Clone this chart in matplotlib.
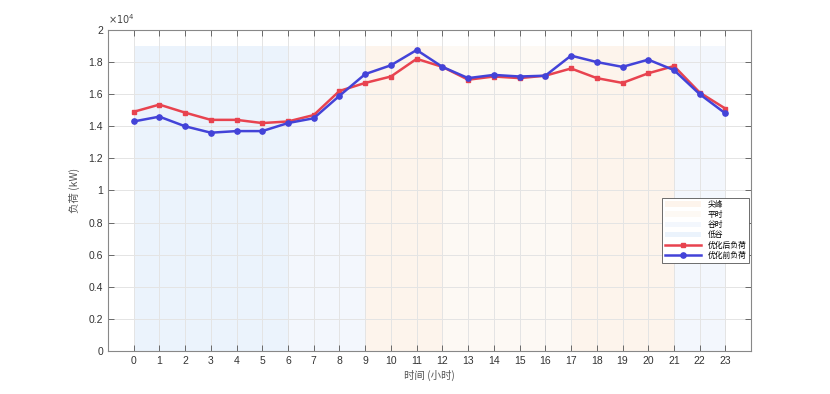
import matplotlib
matplotlib.use("Agg")
import matplotlib.pyplot as plt
import numpy as np

plt.rcParams['font.family'] = ['Liberation Sans', 'Noto Sans CJK SC', 'DejaVu Sans']

# ----------------------------
# Data
# ----------------------------
hours = list(range(24))
load_after = [1.49, 1.535, 1.485, 1.44, 1.44, 1.42, 1.43, 1.47, 1.62, 1.67, 1.71, 1.82,
              1.77, 1.69, 1.71, 1.70, 1.715, 1.76, 1.70, 1.67, 1.73, 1.775, 1.61, 1.51]
load_before = [1.43, 1.46, 1.40, 1.36, 1.37, 1.37, 1.42, 1.45, 1.59, 1.725, 1.78, 1.875,
               1.77, 1.70, 1.72, 1.71, 1.715, 1.84, 1.80, 1.77, 1.815, 1.75, 1.60, 1.48]
load_after = [v * 1e4 for v in load_after]
load_before = [v * 1e4 for v in load_before]

# time-of-use periods: (label, colour, [(start, end), ...])
period_names = ['尖峰', '平时', '谷时', '低谷']
period_colors = ['#fdf4ec', '#fdf9f4', '#f3f7fd', '#ebf3fc']
period_spans = [[(9, 12), (17, 21)], [(12, 17)], [(6, 9), (21, 23)], [(0, 6)]]
band_top = 1.9e4

# ----------------------------
# Plot
# ----------------------------
fig = plt.figure(figsize=(8.3, 3.94), dpi=100)
ax = fig.add_axes([0.130, 0.109, 0.775, 0.815])

for name, col, spans in zip(period_names, period_colors, period_spans):
    for i, (s, e) in enumerate(spans):
        ax.fill_between([s, e], 0, band_top, color=col, lw=0,
                        label=name if i == 0 else None, zorder=0)

ax.plot(hours, load_after, color='#e8434f', lw=1.8, marker='s', ms=3.5,
        label='优化后负荷', zorder=3)
ax.plot(hours, load_before, color='#4343d8', lw=1.8, marker='o', ms=3.8,
        label='优化前负荷', zorder=3)

ax.set_xlim(-1, 24)
ax.set_ylim(0, 2e4)
ax.set_xticks(hours)
ax.set_yticks(np.arange(0, 2.01e4, 0.2e4))
ax.set_yticklabels(['0', '0.2', '0.4', '0.6', '0.8', '1', '1.2', '1.4', '1.6', '1.8', '2'])
ax.grid(True, color='#e4e4e4', lw=0.7, zorder=1)
ax.set_axisbelow(True)
ax.tick_params(direction='in', top=True, right=True, length=4, color='#555555',
               labelcolor='#333333', labelsize=7.5, width=0.6)
for sp in ax.spines.values():
    sp.set_color('#888888')
    sp.set_linewidth(0.8)

ax.text(0.0, 1.012, r'$\times10^4$', transform=ax.transAxes, fontsize=7,
        color='#444444', ha='left', va='bottom')
ax.set_xlabel('时间 (小时)', family=['Noto Sans CJK SC', 'DejaVu Sans'],
              fontsize=7.5, color='#555555', labelpad=3)
ax.set_ylabel('负荷 (kW)', family=['Noto Sans CJK SC', 'DejaVu Sans'],
              fontsize=7.5, color='#555555', labelpad=6)

leg = ax.legend(loc='upper right', bbox_to_anchor=(1.003, 0.49),
                prop={'family': ['Noto Sans CJK SC', 'DejaVu Sans'], 'size': 5.6},
                fancybox=False, framealpha=1, edgecolor='#555555',
                handlelength=4.6, labelspacing=0.28, borderpad=0.4,
                handletextpad=0.8, handleheight=0.7)
leg.get_frame().set_linewidth(0.6)

fig.savefig('out.png', dpi=100)
